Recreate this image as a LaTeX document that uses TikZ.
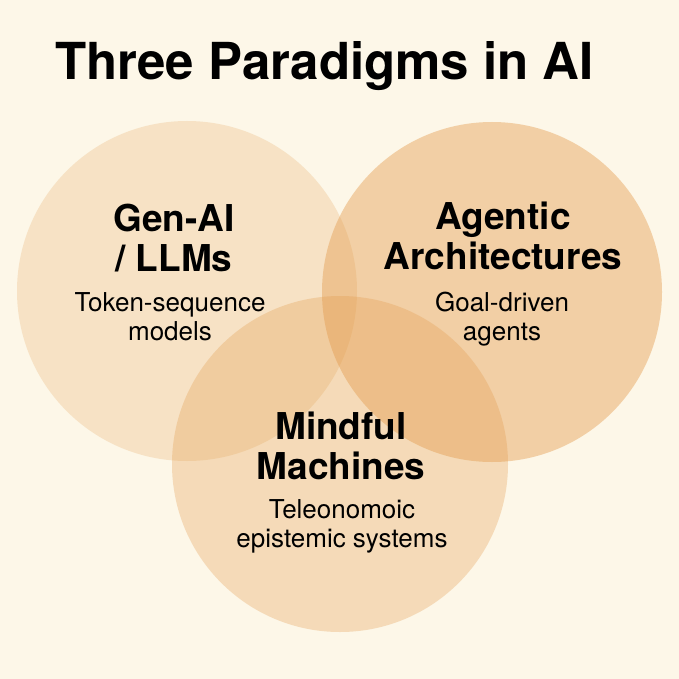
\documentclass[tikz,border=0pt]{standalone}
\usepackage{fontspec}
\setmainfont{TeX Gyre Heros}
\usetikzlibrary{positioning}
\definecolor{cream}{HTML}{FDF7E8}
\definecolor{peach}{HTML}{E39A4A}

\begin{document}
\begin{tikzpicture}[
  x=1pt, y=-1pt,
  every node/.style={inner sep=0pt, text=black},
  circ/.style={circle, fill=peach, minimum size=340pt},
  head/.style={anchor=north, align=center, font=\bfseries\fontsize{37}{40}\selectfont},
  sub/.style={anchor=north, align=center, font=\fontsize{26}{29}\selectfont},
]
  %--- background and frame
  \fill[cream] (0,0) rectangle (679,679);
  \useasboundingbox (0,0) rectangle (679,679);

  %--- circles
  \node[circ, fill opacity=0.22] (gencirc)  at (187,291) {};
  \node[circ, fill opacity=0.42] (agtcirc)  at (492,292) {};
  \node[circ, fill opacity=0.30, minimum size=336pt] (mindcirc) at (340,464) {};

  %--- title
  \node[anchor=base west, font=\bfseries\fontsize{51}{56}\selectfont] (title) at (55,80) {Three Paradigms in AI};

  %--- labels
  \node[head] (gen)     at (174,204)   {Gen-AI\\/ LLMs};
  \node[sub]  (gensub)  at (170,292)   {Token-sequence\\models};

  \node[head] (agt)     at (503,202)   {Agentic\\Architectures};
  \node[sub]  (agtsub)  at (502,292)   {Goal-driven\\agents};

  \node[head] (mind)    at (341,412)   {Mindful\\Machines};
  \node[sub]  (mindsub) at (342,499)   {Teleonomoic\\epistemic systems};

\end{tikzpicture}
\end{document}
